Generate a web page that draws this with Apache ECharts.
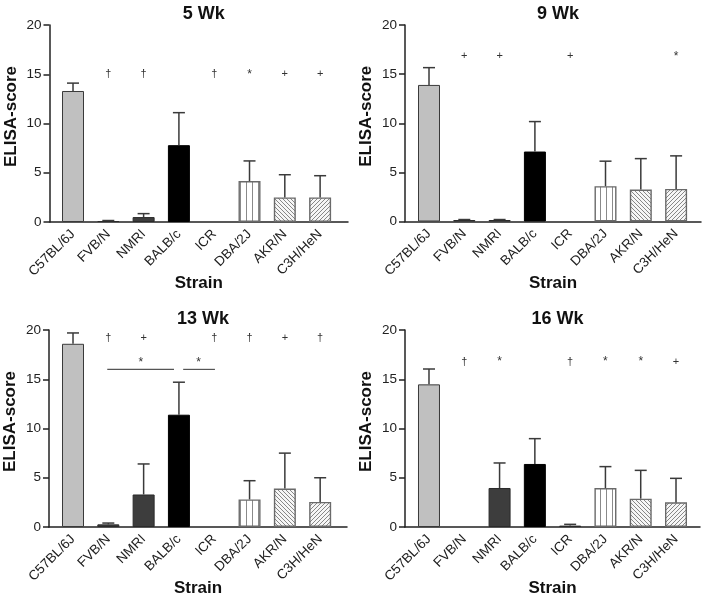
<!DOCTYPE html>
<html>
<head>
<meta charset="utf-8">
<script src="https://cdn.jsdelivr.net/npm/echarts@6/dist/echarts.min.js"></script>
<style>
html,body{margin:0;padding:0;background:#fff;}
#chart{width:704px;height:596px;}
</style>
</head>
<body>
<div id="chart"></div>
<script>
// ---------- data ----------
const categories = ['C57BL/6J', 'FVB/N', 'NMRI', 'BALB/c', 'ICR', 'DBA/2J', 'AKR/N', 'C3H/HeN'];
const panelTitles = ['5 Wk', '9 Wk', '13 Wk', '16 Wk'];

const wk5Mean = [13.3, 0.1, 0.5, 7.8, 0, 4.15, 2.5, 2.5];
const wk5Err  = [0.8, 0.05, 0.35, 3.3, 0, 2.05, 2.3, 2.2];
const wk5Sig  = ['', '†', '†', '', '†', '*', '+', '+'];

const wk9Mean = [13.9, 0.15, 0.15, 7.12, 0, 3.6, 3.25, 3.32];
const wk9Err  = [1.76, 0.05, 0.05, 3.05, 0, 2.54, 3.15, 3.36];
const wk9Sig  = ['', '+', '+', '', '+', '', '', '*'];

const wk13Mean = [18.6, 0.27, 3.3, 11.4, 0, 2.8, 3.9, 2.55];
const wk13Err  = [1.1, 0.13, 3.1, 3.3, 0, 1.9, 3.6, 2.45];
const wk13Sig  = ['', '†', '+', '', '†', '†', '+', '†'];

const wk16Mean = [14.48, 0, 3.96, 6.4, 0.14, 3.96, 2.88, 2.5];
const wk16Err  = [1.56, 0, 2.54, 2.57, 0.13, 2.17, 2.87, 2.44];
const wk16Sig  = ['', '†', '*', '', '†', '*', '*', '+'];

const sigLevels = [15, 16.8, 19.15, 16.75];
// 13 Wk comparison brackets: [from, to, level, star position, star level]
const wk13Brackets = [[0.97, 2.86, 16.0, 1.92, 16.7], [3.12, 4.02, 16.0, 3.56, 16.7]];

const yTicks = { min: 0, max: 20, interval: 5 };

// ---------- styles ----------
const FONT = "'Liberation Sans', Arial, Helvetica, sans-serif";
function makePattern(kind) {
  const c = document.createElement('canvas');
  const ctx = c.getContext('2d');
  if (kind === 'vertical') {
    c.width = 6; c.height = 4;
    ctx.fillStyle = '#ffffff'; ctx.fillRect(0, 0, 6, 4);
    ctx.fillStyle = '#8a8a8a'; ctx.fillRect(0, 0, 1, 4);
  } else {
    const s = 4;
    c.width = s; c.height = s;
    ctx.fillStyle = '#f6f6f6'; ctx.fillRect(0, 0, s, s);
    ctx.strokeStyle = '#7a7a7a'; ctx.lineWidth = 0.9;
    ctx.beginPath();
    if (kind === 'back') {
      ctx.moveTo(-1, -1); ctx.lineTo(s + 1, s + 1);
      ctx.moveTo(-1, s - 1); ctx.lineTo(1, s + 1);
      ctx.moveTo(s - 1, -1); ctx.lineTo(s + 1, 1);
    } else {
      ctx.moveTo(-1, s + 1); ctx.lineTo(s + 1, -1);
      ctx.moveTo(-1, 1); ctx.lineTo(1, -1);
      ctx.moveTo(s - 1, s + 1); ctx.lineTo(s + 1, s - 1);
    }
    ctx.stroke();
  }
  return { image: c, repeat: 'repeat' };
}
const fills = ['#c0c0c0', '#3d3d3d', '#3d3d3d', '#000000', '#3d3d3d',
  makePattern('vertical'), makePattern('back'), makePattern('fwd')];
const borders = ['#3a3a3a', '#2a2a2a', '#2a2a2a', '#000000', '#2a2a2a', '#6a6a6a', '#6a6a6a', '#6a6a6a'];
const borderWidths = [1, 1, 1, 1, 1, 1.4, 1.4, 1.4];

// layout
const grids = [
  { left: 49.5, top: 25, width: 298.5, height: 197, xmin: -0.666, xmax: 7.79 },
  { left: 405, top: 25, width: 296, height: 196.5, xmin: -0.68, xmax: 7.705 },
  { left: 49, top: 330, width: 298, height: 197, xmin: -0.68, xmax: 7.76 },
  { left: 405, top: 330, width: 295, height: 197, xmin: -0.68, xmax: 7.68 }
];

const panels = [
  { mean: wk5Mean, err: wk5Err, sig: wk5Sig },
  { mean: wk9Mean, err: wk9Err, sig: wk9Sig },
  { mean: wk13Mean, err: wk13Err, sig: wk13Sig, brackets: wk13Brackets },
  { mean: wk16Mean, err: wk16Err, sig: wk16Sig }
];

const option = {
  backgroundColor: '#ffffff',
  animation: false,
  textStyle: { fontFamily: FONT },
  title: [], grid: [], xAxis: [], yAxis: [], series: []
};

panels.forEach((p, k) => {
  const g = grids[k];
  option.grid.push({ left: g.left, top: g.top, width: g.width, height: g.height, containLabel: false, outerBoundsMode: 'none' });
  option.title.push({
    text: panelTitles[k], left: g.left + g.width / 2, top: g.top - 25, textAlign: 'center',
    textStyle: { fontFamily: FONT, fontSize: 18, fontWeight: 'bold', color: '#111' }
  });
  option.xAxis.push({
    type: 'value', gridIndex: k, min: g.xmin, max: g.xmax,
    name: 'Strain', nameLocation: 'middle', nameGap: 53, nameMoveOverlap: false,
    nameTextStyle: { fontFamily: FONT, fontSize: 17, fontWeight: 'bold', color: '#111' },
    axisLine: { show: true, onZero: false, lineStyle: { color: '#222', width: 1.5 } },
    axisTick: { show: false },
    splitLine: { show: false },
    axisLabel: {
      customValues: categories.map((c, i) => i),
      formatter: v => categories[Math.round(v)] || '',
      rotate: 45, margin: 10, fontFamily: FONT, fontSize: 13.5, color: '#222'
    }
  });
  option.yAxis.push({
    type: 'value', gridIndex: k, min: yTicks.min, max: yTicks.max, interval: yTicks.interval,
    name: 'ELISA-score', nameLocation: 'middle', nameGap: 30, nameMoveOverlap: false,
    nameTextStyle: { fontFamily: FONT, fontSize: 17, fontWeight: 'bold', color: '#111', padding: [0, 0, 0, 14] },
    axisLine: { show: true, onZero: false, lineStyle: { color: '#222', width: 1.5 } },
    axisTick: { show: true, length: 6, lineStyle: { color: '#222', width: 1.5 } },
    splitLine: { show: false },
    axisLabel: { fontFamily: FONT, fontSize: 13.5, color: '#222', margin: 8 }
  });
  option.series.push({
    type: 'bar', xAxisIndex: k, yAxisIndex: k, barWidth: 22,
    data: categories.map((c, i) => ({
      value: [i, p.mean[i]],
      itemStyle: { color: fills[i], borderColor: borders[i], borderWidth: p.mean[i] > 0 ? borderWidths[i] : 0 }
    })),
    z: 2
  });
  option.series.push({
    type: 'custom', xAxisIndex: k, yAxisIndex: k, z: 3,
    data: categories.map((c, i) => [i, p.mean[i], p.err[i]]),
    renderItem: (params, api) => {
      const x = api.value(0), m = api.value(1), e = api.value(2);
      if (!(e > 0)) return null;
      const a = api.coord([x, m]), b = api.coord([x, m + e]);
      const st = { stroke: '#3a3a3a', lineWidth: 1.5 };
      return { type: 'group', children: [
        { type: 'line', shape: { x1: a[0], y1: a[1], x2: b[0], y2: b[1] }, style: st },
        { type: 'line', shape: { x1: b[0] - 6, y1: b[1], x2: b[0] + 6, y2: b[1] }, style: st }
      ] };
    }
  });
  option.series.push({
    type: 'custom', xAxisIndex: k, yAxisIndex: k, z: 4,
    data: categories.map((c, i) => [i, sigLevels[k], p.sig[i]]),
    renderItem: (params, api) => {
      const s = p.sig[params.dataIndex];
      if (!s) return null;
      const pt = api.coord([api.value(0), api.value(1)]);
      return { type: 'text', style: {
        text: s, x: pt[0], y: pt[1], align: 'center', verticalAlign: 'middle',
        font: (s === '*' ? '12px ' : '11px ') + FONT, fill: '#333'
      } };
    }
  });
  if (p.brackets) {
    option.series.push({
      type: 'custom', xAxisIndex: k, yAxisIndex: k, z: 4,
      data: p.brackets,
      renderItem: (params, api) => {
        const a = api.coord([api.value(0), api.value(2)]);
        const b = api.coord([api.value(1), api.value(2)]);
        const s = api.coord([api.value(3), api.value(4)]);
        return { type: 'group', children: [
          { type: 'line', shape: { x1: a[0], y1: a[1], x2: b[0], y2: b[1] }, style: { stroke: '#555', lineWidth: 1.2 } },
          { type: 'text', style: { text: '*', x: s[0], y: s[1], align: 'center', verticalAlign: 'middle', font: '12px ' + FONT, fill: '#333' } }
        ] };
      }
    });
  }
});

const chart = echarts.init(document.getElementById('chart'), null, { renderer: 'canvas' });
chart.setOption(option);
</script>
</body>
</html>
